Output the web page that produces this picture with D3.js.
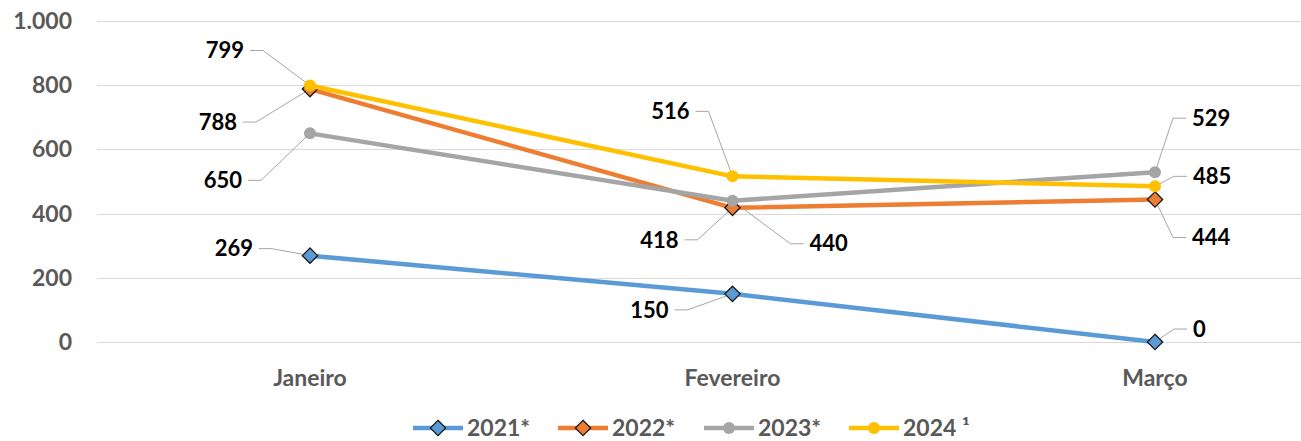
<!DOCTYPE html>
<html>
<head>
<meta charset="utf-8">
<script src="https://cdn.jsdelivr.net/npm/d3@7"></script>
<style>
  body { margin: 0; background: #fff; }
  text { font-family: Lato, "Open Sans", sans-serif; font-weight: bold; }
</style>
</head>
<body>
<div id="chart"></div>
<script>
// data
var months = ["Janeiro", "Fevereiro", "Março"];
var seriesNames = ["2021*", "2022*", "2023*", "2024 ¹"];
var v2021 = [269, 150, 0];
var v2022 = [788, 418, 444];
var v2023 = [650, 440, 529];
var v2024 = [799, 516, 485];
var yTicks = [0, 200, 400, 600, 800, 1000];

var width = 1301, height = 441;

var series = [
  { name: seriesNames[0], values: v2021, color: "#5B9BD5", marker: "diamond" },
  { name: seriesNames[1], values: v2022, color: "#ED7D31", marker: "diamond" },
  { name: seriesNames[2], values: v2023, color: "#A5A5A5", marker: "circle" },
  { name: seriesNames[3], values: v2024, color: "#FFC000", marker: "circle" }
];

// label placement (dx, dy from the point) per series and month, Excel style callouts
var labelOffsets = [
  [[-81, -7], [-88, 16], [58, -13]],
  [[-97, 33], [-78, 32], [57, 38]],
  [[-92, 47], [97, 43], [57, -54]],
  [[-90, -35], [-67, -65], [58, -10]]
];

var svg = d3.select("#chart").append("svg")
    .attr("width", width)
    .attr("height", height);

var x = d3.scalePoint()
    .domain(months)
    .range([310, 1155]);

var y = d3.scaleLinear()
    .domain([0, 1000])
    .range([342, 21]);

// gridlines
svg.append("g").selectAll("line")
  .data(yTicks)
  .enter().append("line")
    .attr("x1", 97).attr("x2", width)
    .attr("y1", d => Math.round(y(d)) + 0.5)
    .attr("y2", d => Math.round(y(d)) + 0.5)
    .attr("stroke", "#d9d9d9")
    .attr("stroke-width", 1);

// y axis labels
var fmt = d => d3.format(",")(d).replace(/,/g, ".");
svg.append("g").selectAll("text")
  .data(yTicks)
  .enter().append("text")
    .attr("x", 72)
    .attr("y", d => y(d))
    .attr("dy", "0.35em")
    .attr("text-anchor", "end")
    .attr("fill", "#595959")
    .style("font-size", "23px")
    .text(fmt);

// x axis labels
svg.append("g").selectAll("text")
  .data(months)
  .enter().append("text")
    .attr("x", d => x(d))
    .attr("y", 386)
    .attr("text-anchor", "middle")
    .attr("fill", "#595959")
    .style("font-size", "23px")
    .text(d => d);

var line = d3.line()
    .x((d, i) => x(months[i]))
    .y(d => y(d));

function drawMarker(g, type, color, cx, cy) {
  if (type === "diamond") {
    g.append("path")
      .attr("d", d3.symbol().type(d3.symbolDiamond2).size(150)())
      .attr("transform", "translate(" + cx + "," + cy + ")")
      .attr("fill", color)
      .attr("stroke", "#1a1a1a")
      .attr("stroke-width", 1.3);
  } else {
    g.append("circle")
      .attr("cx", cx).attr("cy", cy).attr("r", 6)
      .attr("fill", color);
  }
}

// leader lines and labels (under the series)
var labelLayer = svg.append("g");
series.forEach(function(s, si) {
  s.values.forEach(function(v, i) {
    var px = x(months[i]), py = y(v);
    var off = labelOffsets[si][i];
    var lx = px + off[0], ly = py + off[1];
    var left = off[0] < 0;
    var ex = left ? lx + 30 : lx - 26;
    var kx = left ? ex + 13 : ex - 13;
    labelLayer.append("polyline")
      .attr("points", [[ex, ly], [kx, ly], [px, py]].map(p => p.join(",")).join(" "))
      .attr("fill", "none")
      .attr("stroke", "#a6a6a6")
      .attr("stroke-width", 1);
    labelLayer.append("text")
      .attr("x", left ? ex - 6 : ex + 6)
      .attr("y", ly)
      .attr("dy", "0.35em")
      .attr("text-anchor", left ? "end" : "start")
      .attr("fill", "#000")
      .style("font-size", "22px")
      .text(v);
  });
});

// series
series.forEach(function(s) {
  var g = svg.append("g");
  g.append("path")
    .datum(s.values)
    .attr("d", line)
    .attr("fill", "none")
    .attr("stroke", s.color)
    .attr("stroke-width", 4.5)
    .attr("stroke-linejoin", "round");
  s.values.forEach(function(v, i) {
    drawMarker(g, s.marker, s.color, x(months[i]), y(v));
  });
});

// legend
var legendX = [413, 558, 704, 849];
var legend = svg.append("g");
series.forEach(function(s, i) {
  var lg = legend.append("g").attr("transform", "translate(" + legendX[i] + ",428)");
  lg.append("line")
    .attr("x1", 0).attr("x2", 50)
    .attr("stroke", s.color)
    .attr("stroke-width", 4.5);
  drawMarker(lg, s.marker, s.color, 25, 0);
  lg.append("text")
    .attr("x", 54)
    .attr("dy", "0.33em")
    .attr("fill", "#595959")
    .style("font-size", "23px")
    .text(s.name);
});
</script>
</body>
</html>
